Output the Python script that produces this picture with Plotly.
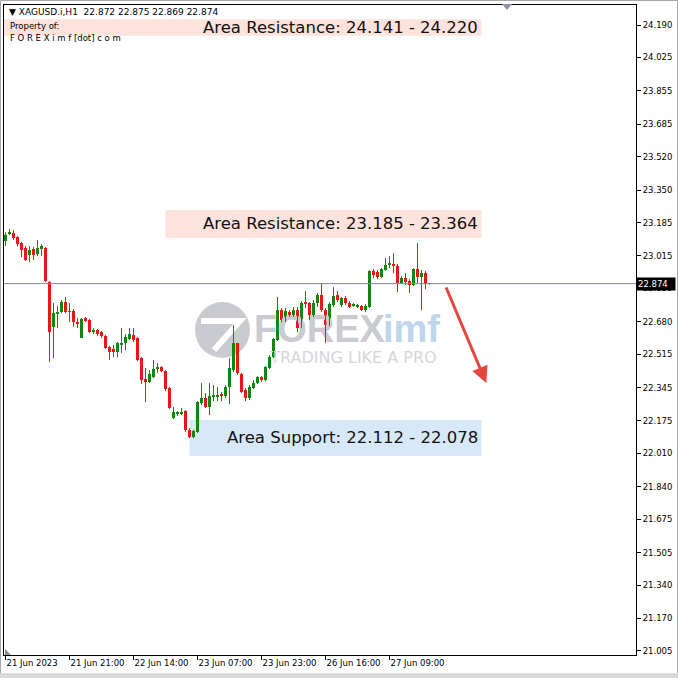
import plotly.graph_objects as go

symbol_header = "XAGUSD.i,H1\u00a0\u00a022.872 22.875 22.869 22.874"
last_price = 22.874

opens = [23.091, 23.126, 23.131, 23.111, 23.080, 23.055, 23.019, 23.050, 23.024, 23.050,
         23.055, 22.882, 22.653, 22.719, 22.729, 22.780, 22.729, 22.734, 22.678, 22.597,
         22.699, 22.689, 22.627, 22.638, 22.627, 22.607, 22.551, 22.541, 22.526, 22.561,
         22.571, 22.592, 22.612, 22.597, 22.495, 22.388, 22.373, 22.398, 22.439, 22.449,
         22.429, 22.343, 22.190, 22.210, 22.210, 22.225, 22.129, 22.093, 22.119, 22.266,
         22.292, 22.246, 22.297, 22.297, 22.312, 22.302, 22.348, 22.434, 22.571, 22.414,
         22.332, 22.292, 22.343, 22.368, 22.398, 22.383, 22.444, 22.500, 22.587, 22.739,
         22.689, 22.729, 22.714, 22.739, 22.653, 22.780, 22.775, 22.714, 22.775, 22.816,
         22.739, 22.668, 22.765, 22.816, 22.765, 22.800, 22.775, 22.760, 22.755, 22.760,
         22.739, 22.755, 22.938, 22.933, 22.907, 22.943, 22.968, 22.974, 22.963, 22.877,
         22.902, 22.887, 22.867, 22.948, 22.907, 22.928, 22.872]

highs = [23.136, 23.152, 23.147, 23.116, 23.086, 23.065, 23.065, 23.060, 23.096, 23.075,
         23.060, 22.887, 22.775, 22.760, 22.790, 22.806, 22.775, 22.744, 22.699, 22.699,
         22.704, 22.694, 22.648, 22.643, 22.633, 22.612, 22.556, 22.561, 22.577, 22.648,
         22.617, 22.648, 22.648, 22.602, 22.500, 22.444, 22.434, 22.485, 22.470, 22.454,
         22.434, 22.348, 22.246, 22.225, 22.241, 22.230, 22.139, 22.129, 22.276, 22.368,
         22.317, 22.368, 22.358, 22.348, 22.322, 22.358, 22.495, 22.663, 22.571, 22.419,
         22.343, 22.358, 22.383, 22.403, 22.403, 22.454, 22.510, 22.597, 22.806, 22.750,
         22.750, 22.739, 22.755, 22.755, 22.785, 22.836, 22.780, 22.790, 22.826, 22.877,
         22.750, 22.780, 22.856, 22.836, 22.806, 22.811, 22.785, 22.775, 22.770, 22.765,
         22.770, 22.943, 22.948, 22.943, 22.953, 23.004, 23.014, 23.029, 22.974, 22.912,
         22.928, 22.897, 22.953, 23.080, 22.943, 22.938, 22.875]

lows = [23.065, 23.121, 23.096, 23.065, 23.009, 22.989, 22.984, 22.994, 23.014, 23.014,
        22.882, 22.475, 22.495, 22.648, 22.724, 22.724, 22.678, 22.653, 22.648, 22.597,
        22.678, 22.622, 22.617, 22.607, 22.597, 22.541, 22.485, 22.500, 22.500, 22.521,
        22.536, 22.587, 22.577, 22.480, 22.363, 22.271, 22.368, 22.393, 22.419, 22.424,
        22.327, 22.236, 22.185, 22.200, 22.205, 22.119, 22.088, 22.088, 22.114, 22.256,
        22.241, 22.205, 22.276, 22.276, 22.276, 22.292, 22.261, 22.424, 22.409, 22.317,
        22.276, 22.281, 22.337, 22.363, 22.373, 22.378, 22.439, 22.495, 22.582, 22.678,
        22.678, 22.704, 22.704, 22.627, 22.648, 22.750, 22.689, 22.704, 22.755, 22.729,
        22.571, 22.658, 22.755, 22.780, 22.755, 22.765, 22.750, 22.755, 22.750, 22.734,
        22.729, 22.750, 22.902, 22.897, 22.902, 22.938, 22.953, 22.928, 22.831, 22.872,
        22.867, 22.826, 22.862, 22.877, 22.739, 22.846, 22.869]

closes = [23.121, 23.136, 23.106, 23.075, 23.045, 22.994, 23.045, 23.019, 23.055, 23.065,
          22.887, 22.627, 22.724, 22.729, 22.780, 22.729, 22.734, 22.678, 22.668, 22.694,
          22.683, 22.627, 22.638, 22.617, 22.607, 22.546, 22.526, 22.526, 22.571, 22.571,
          22.602, 22.617, 22.587, 22.485, 22.383, 22.373, 22.414, 22.439, 22.449, 22.429,
          22.337, 22.241, 22.220, 22.220, 22.220, 22.129, 22.093, 22.124, 22.271, 22.292,
          22.246, 22.302, 22.307, 22.307, 22.302, 22.348, 22.444, 22.571, 22.419, 22.322,
          22.292, 22.348, 22.368, 22.398, 22.383, 22.449, 22.500, 22.592, 22.739, 22.689,
          22.734, 22.714, 22.739, 22.648, 22.775, 22.770, 22.714, 22.775, 22.816, 22.739,
          22.663, 22.770, 22.811, 22.790, 22.800, 22.775, 22.755, 22.770, 22.765, 22.739,
          22.760, 22.938, 22.918, 22.907, 22.948, 22.968, 22.979, 22.963, 22.877, 22.902,
          22.882, 22.867, 22.948, 22.907, 22.928, 22.872, 22.874]

x_tick_index = [0, 16, 32, 48, 64, 80, 96]
x_tick_labels = ["21 Jun 2023", "21 Jun 21:00", "22 Jun 14:00", "23 Jun 07:00",
                 "23 Jun 23:00", "26 Jun 16:00", "27 Jun 09:00"]
y_tick_values = [24.190, 24.025, 23.855, 23.685, 23.520, 23.350, 23.185, 23.015, 22.850,
                 22.680, 22.515, 22.345, 22.175, 22.010, 21.840, 21.675, 21.505, 21.340,
                 21.170, 21.005]

zone_labels = ["Area Resistance: 24.141 - 24.220",
               "Area Resistance: 23.185 - 23.364",
               "Area Support: 22.112 - 22.078"]
zone_bottom = [24.136, 23.106, 21.997]
zone_top = [24.220, 23.249, 22.180]
zone_left = [-0.4, 40, 46]
zone_right = [119, 119, 119]
zone_fill = ["#fde3dc", "#fde3dc", "#d7e8f8"]

GREEN = "#0f870f"
RED = "#ec1515"
FONT = "DejaVu Sans"

n = len(opens)
xs = list(range(n))
up = [c >= o for o, c in zip(opens, closes)]

fig = go.Figure()

# watermark text (drawn first, below candles)
fig.add_trace(go.Scatter(
    x=[78.5, 101.5, 87], y=[22.625, 22.625, 22.490], mode="text",
    text=["FOREX", "imf", "TRADING LIKE A PRO"],
    textfont=dict(family=["Liberation Sans", "Liberation Sans", FONT],
                  size=[38, 38, 16], color=["#c9cbd0", "#bdd6ec", "#d4d6da"],
                  weight=["bold", "bold", "normal"]),
    hoverinfo="skip", showlegend=False))

# wicks
for flag, col in [(True, GREEN), (False, RED)]:
    wx, wy = [], []
    for i in xs:
        if up[i] == flag:
            wx += [i, i, None]
            wy += [lows[i], highs[i], None]
    fig.add_trace(go.Scatter(x=wx, y=wy, mode="lines", line=dict(color=col, width=1),
                             hoverinfo="skip", showlegend=False))

# bodies
body_h = [max(abs(c - o), 0.005) for o, c in zip(opens, closes)]
body_b = [min(o, c) for o, c in zip(opens, closes)]
fig.add_trace(go.Bar(x=xs, y=body_h, base=body_b, width=0.75,
                     marker=dict(color=[GREEN if u else RED for u in up], line=dict(width=0)),
                     hoverinfo="skip", showlegend=False))

shapes = []
annotations = []

# zone boxes
for lab, b, t, l, r, fc in zip(zone_labels, zone_bottom, zone_top, zone_left, zone_right, zone_fill):
    shapes.append(dict(type="rect", xref="x", yref="y", x0=l, x1=r, y0=b, y1=t,
                       fillcolor=fc, line=dict(width=0), layer="below"))
    annotations.append(dict(x=r - 0.5, y=(b + t) / 2, xref="x", yref="y", text=lab,
                            showarrow=False, xanchor="right", yanchor="middle",
                            font=dict(family=FONT, size=16.5, color="#111111")))

# logo circle watermark
shapes.append(dict(type="circle", xref="paper", yref="paper",
                   x0=(195 - 4) / 632, x1=(250 - 4) / 632,
                   y0=(655 - 358) / 650, y1=(655 - 302) / 650,
                   fillcolor="#c9cbd0", line=dict(width=0), layer="below"))
shapes.append(dict(type="path", xref="paper", yref="paper",
                   path="M {:.4f},{:.4f} L {:.4f},{:.4f} L {:.4f},{:.4f}".format(
                       (201 - 4) / 632, (655 - 321) / 650,
                       (240 - 4) / 632, (655 - 321) / 650,
                       (214 - 4) / 632, (655 - 350) / 650),
                   line=dict(color="white", width=6), layer="below"))

# current price line
shapes.append(dict(type="line", xref="paper", yref="y", x0=0, x1=1,
                   y0=last_price, y1=last_price, line=dict(color="#7b8793", width=1)))

# chart shift triangle (top) and scale-fix triangle (bottom left)
shapes.append(dict(type="path", xref="paper", yref="paper",
                   path="M {:.4f},{:.4f} L {:.4f},{:.4f} L {:.4f},{:.4f} Z".format(
                       (502 - 4) / 632, (655 - 4) / 650, (512 - 4) / 632, (655 - 4) / 650,
                       (507 - 4) / 632, (655 - 10) / 650),
                   fillcolor="#8a96a3", line=dict(width=0)))
shapes.append(dict(type="path", xref="paper", yref="paper",
                   path="M {:.4f},{:.4f} L {:.4f},{:.4f} L {:.4f},{:.4f} Z".format(
                       (5 - 4) / 632, (655 - 649) / 650, (5 - 4) / 632, (655 - 655) / 650,
                       (11 - 4) / 632, (655 - 655) / 650),
                   fillcolor="#8a8a8a", line=dict(width=0)))

# window frame
shapes.append(dict(type="rect", xref="paper", yref="paper",
                   x0=(0.5 - 4) / 632, x1=(677.5 - 4) / 632,
                   y0=(655 - 677.5) / 650, y1=(655 - 0.5) / 650,
                   line=dict(color="#a8a8a8", width=1)))
shapes.append(dict(type="rect", xref="paper", yref="paper",
                   x0=(0 - 4) / 632, x1=(678 - 4) / 632,
                   y0=(655 - 678) / 650, y1=(655 - 673) / 650,
                   fillcolor="#d9d9d9", line=dict(width=0)))

# header texts
annotations.append(dict(x=(7 - 4) / 632, y=(655 - 12) / 650, xref="paper", yref="paper",
                        text="\u25bc\u00a0" + symbol_header, showarrow=False,
                        xanchor="left", yanchor="middle",
                        font=dict(family=FONT, size=9, color="black")))
annotations.append(dict(x=(8 - 4) / 632, y=(655 - 26) / 650, xref="paper", yref="paper",
                        text="Property of:", showarrow=False, xanchor="left", yanchor="middle",
                        font=dict(family=FONT, size=8.5, color="black")))
annotations.append(dict(x=(8 - 4) / 632, y=(655 - 38) / 650, xref="paper", yref="paper",
                        text="F O R E X i m f [dot] c o m", showarrow=False, xanchor="left",
                        yanchor="middle", font=dict(family=FONT, size=8.5, color="black")))

# price tag
annotations.append(dict(x=1, y=last_price, xref="paper", yref="y", text="22.874",
                        showarrow=False, xanchor="left", yanchor="middle", bgcolor="black",
                        borderpad=1, width=36, align="left",
                        font=dict(family=FONT, size=8.5, color="white")))

# red arrow
annotations.append(dict(x=120.2, y=22.368, ax=110, ay=22.862, xref="x", yref="y",
                        axref="x", ayref="y", text="", showarrow=True, arrowhead=2,
                        arrowsize=1.1, arrowwidth=3, arrowcolor="#e5473f"))

fig.update_layout(
    width=678, height=678,
    margin=dict(l=4, r=42, t=5, b=23),
    paper_bgcolor="white", plot_bgcolor="white",
    showlegend=False, bargap=0,
    shapes=shapes, annotations=annotations,
    xaxis=dict(range=[-0.375, 157.625], showgrid=False, zeroline=False,
               showline=True, linecolor="black", linewidth=1, mirror=True,
               tickmode="array", tickvals=x_tick_index, ticktext=x_tick_labels,
               ticks="outside", ticklen=4, tickcolor="black", tickwidth=1,
               ticklabelposition="outside right",
               tickfont=dict(family=FONT, size=8.5, color="black")),
    yaxis=dict(range=[20.984, 24.292], side="right", showgrid=False, zeroline=False,
               showline=True, linecolor="black", linewidth=1, mirror=True,
               tickmode="array", tickvals=y_tick_values,
               ticktext=["{:.3f}".format(v) for v in y_tick_values],
               ticks="outside", ticklen=4, tickcolor="black", tickwidth=1,
               tickfont=dict(family=FONT, size=8.5, color="black")),
)

fig.write_html("out.html", config={"displayModeBar": False, "staticPlot": True},
               post_script="document.body.style.margin='0';document.body.style.overflow='hidden';")
